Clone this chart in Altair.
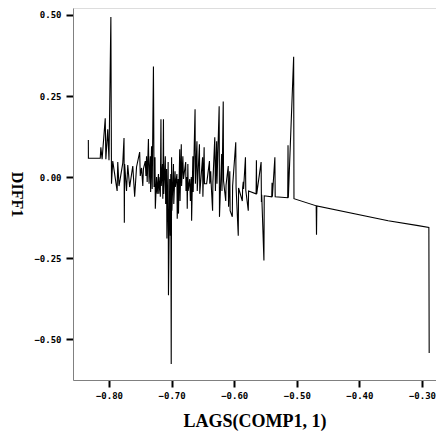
import altair as alt
import pandas as pd

# Line points (sorted along x)
lag_comp1 = [
    -0.8330, -0.8329, -0.814, -0.813, -0.811, -0.806, -0.805, -0.802, -0.800, -0.797,
    -0.796, -0.794, -0.787, -0.786, -0.784, -0.778, -0.776, -0.7755, -0.775, -0.772,
    -0.770, -0.767, -0.762, -0.759, -0.756, -0.751, -0.750, -0.748, -0.746, -0.745,
    -0.742, -0.741, -0.740, -0.739, -0.737, -0.736, -0.734, -0.7335, -0.732, -0.731,
    -0.729, -0.728, -0.7265, -0.726, -0.724, -0.723, -0.721, -0.7205, -0.7185, -0.718,
    -0.717, -0.7165, -0.7145, -0.714, -0.713, -0.7125, -0.710, -0.7095, -0.708, -0.7075,
    -0.7055, -0.705, -0.703, -0.702, -0.7013, -0.7006, -0.700, -0.6995, -0.697, -0.6965,
    -0.6945, -0.694, -0.6915, -0.691, -0.6895, -0.689, -0.687, -0.6865, -0.6845, -0.684,
    -0.682, -0.681, -0.6775, -0.677, -0.6755, -0.675, -0.674, -0.6735, -0.671, -0.670,
    -0.6685, -0.668, -0.666, -0.6655, -0.6625, -0.662, -0.6595, -0.659, -0.6555, -0.655,
    -0.6505, -0.650, -0.648, -0.6475, -0.644, -0.6395, -0.639, -0.6375, -0.637, -0.6345,
    -0.634, -0.631, -0.630, -0.628, -0.6275, -0.624, -0.6235, -0.620, -0.6195, -0.6175,
    -0.617, -0.6135, -0.613, -0.6095, -0.609, -0.607, -0.6065, -0.603, -0.6025, -0.5975,
    -0.597, -0.5935, -0.593, -0.587, -0.5865, -0.5855, -0.585, -0.582, -0.5815, -0.5775,
    -0.577, -0.565, -0.5645, -0.564, -0.557, -0.5565, -0.556, -0.5525, -0.552, -0.540,
    -0.5395, -0.539, -0.535, -0.5345, -0.5145, -0.514, -0.5135, -0.505, -0.5045, -0.469,
    -0.4685, -0.468, -0.354, -0.306, -0.289, -0.2885,
]
diff1 = [
    0.114, 0.058, 0.058, 0.092, 0.055, 0.181, 0.055, 0.147, 0.052, 0.494,
    -0.021, 0.049, -0.043, 0.046, -0.028, 0.043, 0.120, -0.141, 0.040, -0.043,
    0.037, -0.031, 0.034, -0.061, 0.031, 0.077, 0.003, 0.028, -0.028, 0.025,
    0.049, 0.003, 0.064, -0.015, 0.117, -0.021, 0.064, -0.046, 0.095, -0.037,
    0.341, -0.031, 0.061, -0.098, 0.000, -0.052, 0.009, -0.052, 0.000, -0.061,
    0.178, -0.028, 0.040, -0.067, 0.178, -0.052, 0.064, -0.083, 0.025, -0.190,
    0.046, -0.365, -0.006, -0.181, 0.009, -0.577, 0.061, -0.104, 0.040, -0.083,
    0.018, -0.031, 0.009, -0.129, -0.006, -0.113, 0.086, -0.074, 0.101, -0.028,
    0.064, -0.006, 0.046, -0.043, 0.000, -0.098, 0.040, -0.043, -0.006, -0.074,
    0.000, -0.135, 0.064, -0.046, 0.209, -0.021, 0.110, -0.043, 0.101, -0.052,
    0.061, -0.061, 0.092, -0.021, -0.021, 0.049, -0.021, 0.018, -0.012, -0.104,
    -0.015, 0.123, -0.043, 0.110, -0.021, 0.218, -0.123, 0.071, -0.043, 0.233,
    -0.012, -0.074, -0.025, 0.034, -0.092, 0.018, -0.104, -0.123, -0.028, 0.107,
    -0.031, -0.181, -0.034, -0.074, -0.034, -0.015, -0.037, 0.061, -0.040, -0.104,
    -0.043, -0.052, 0.052, -0.052, 0.046, -0.077, -0.055, -0.258, -0.058, -0.061,
    -0.018, -0.061, 0.061, -0.061, -0.064, 0.098, -0.064, 0.371, -0.067, -0.089,
    -0.178, -0.089, -0.135, -0.150, -0.156, -0.543,
]

x_ticks = [-0.80, -0.70, -0.60, -0.50, -0.40, -0.30]
y_ticks = [0.50, 0.25, 0.00, -0.25, -0.50]

df = pd.DataFrame({
    "lag": lag_comp1,
    "diff": diff1,
    "seq": list(range(len(lag_comp1))),
})

line = alt.Chart(df).mark_line(color="black", strokeWidth=1.1, clip=True).encode(
    x=alt.X(
        "lag:Q",
        scale=alt.Scale(domain=[-0.8575, -0.2776], zero=False, nice=False),
        axis=alt.Axis(
            values=x_ticks, format=".2f", title="LAGS(COMP1, 1)",
            grid=False, tickSize=7, tickWidth=2, tickColor="black",
            domainColor="#808080", domainWidth=1,
            labelFont="DejaVu Sans Mono", labelFontSize=9, labelFontWeight="bold",
            labelPadding=4, labelColor="black",
            titleFont="Liberation Serif", titleFontSize=18, titleFontWeight="bold",
            titlePadding=12, titleColor="black",
        ),
    ),
    y=alt.Y(
        "diff:Q",
        scale=alt.Scale(domain=[-0.6265, 0.5216], zero=False, nice=False),
        axis=alt.Axis(
            values=y_ticks, format=".2f", title="DIFF1",
            grid=False, tickSize=7, tickWidth=2, tickColor="black",
            domainColor="#808080", domainWidth=1,
            labelFont="DejaVu Sans Mono", labelFontSize=9, labelFontWeight="bold",
            labelPadding=5, labelColor="black",
            titleFont="Liberation Serif", titleFontSize=16, titleFontWeight="bold",
            titleAngle=90, titlePadding=25, titleColor="black",
        ),
    ),
    order="seq:Q",
)

chart = line.properties(
    width=363,
    height=372,
    autosize=alt.AutoSizeParams(type="none"),
    padding={"left": 65, "top": 0, "right": 0, "bottom": 51},
).configure_view(stroke="#808080", strokeWidth=1).configure(background="white")

chart.save("out.html", embed_options={"renderer": "svg", "actions": False})
